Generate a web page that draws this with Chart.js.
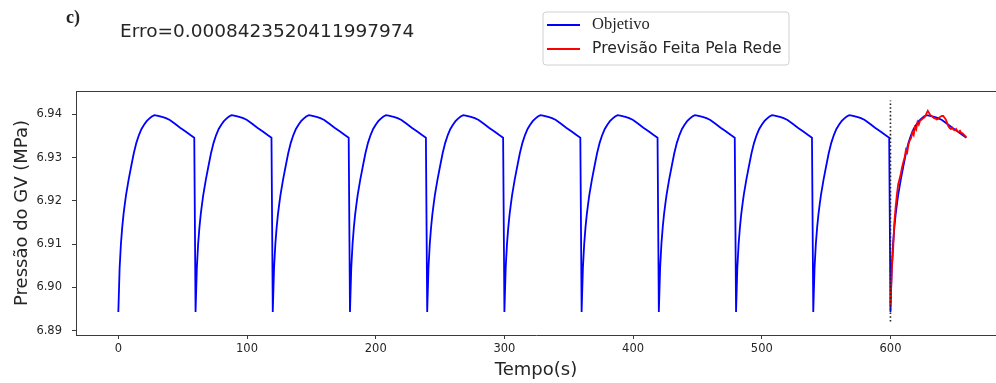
<!DOCTYPE html>
<html>
<head>
<meta charset="utf-8">
<script src="https://cdn.jsdelivr.net/npm/chart.js@4/dist/chart.umd.min.js"></script>
<style>
html,body{margin:0;padding:0;background:#fff;}
#wrap{position:relative;width:996px;height:383px;}
canvas{display:block;}
</style>
</head>
<body>
<div id="wrap"><canvas id="c" width="996" height="383"></canvas></div>
<script>
// ---- data ----
const panelLabel = "c)";
const errorText = "Erro=0.0008423520411997974";
const seriesNames = ["Objetivo", "Previsão Feita Pela Rede"];
const xTitle = "Tempo(s)";
const yTitle = "Pressão do GV (MPa)";
const xTickValues = [0, 100, 200, 300, 400, 500, 600];
const yTickValues = [6.89, 6.90, 6.91, 6.92, 6.93, 6.94];

// one 60 s cycle of the target (offset in s, pressure in MPa)
const cycleOffsets = [0, 1, 2, 3, 4, 5, 6, 8, 10, 12, 14, 16, 18, 20, 22, 24, 26, 28, 30, 34, 37, 40, 44, 48, 52, 56, 59];
const cycleValues  = [6.8943, 6.9045, 6.9100, 6.9138, 6.9168, 6.9192, 6.9214, 6.9249, 6.9280, 6.9310, 6.9334, 6.9352, 6.9366, 6.9376, 6.9384, 6.9390, 6.9395, 6.9398, 6.9397, 6.9394, 6.9391, 6.9387, 6.9378, 6.9369, 6.9361, 6.9352, 6.9346];
// start time of each cycle of the target series
const cycleStarts = [0, 60, 120, 180, 240, 300, 360, 420, 480, 540, 600];

// network prediction, t = 600..659 s
const predTimes = [600,601,602,603,604,605,606,607,608,609,610,611,612,613,614,615,616,617,618,619,620,621,622,623,624,625,626,627,628,629,630,631,632,633,634,635,636,637,638,639,640,641,642,643,644,645,646,647,648,649,650,651,652,653,654,655,656,657,658,659];
const predValues = [6.8960,6.9040,6.9085,6.9150,6.9185,6.9215,6.9238,6.9250,6.9262,6.9278,6.9290,6.9300,6.9318,6.9312,6.9330,6.9340,6.9345,6.9358,6.9352,6.9370,6.9365,6.9382,6.9376,6.9385,6.9387,6.9390,6.9392,6.9395,6.9402,6.9408,6.9403,6.9398,6.9396,6.9393,6.9391,6.9390,6.9388,6.9389,6.9393,6.9395,6.9396,6.9396,6.9392,6.9388,6.9380,6.9372,6.9368,6.9366,6.9369,6.9364,6.9363,6.9366,6.9361,6.9359,6.9362,6.9357,6.9356,6.9353,6.9350,6.9347];

// dotted separator (x, y bottom, y top)
const splitTime = 600;
const splitYRange = [6.8921, 6.9432];

// ---- build library tables ----
const targetPts = [];
cycleStarts.forEach(s => cycleOffsets.forEach((o, i) => targetPts.push({x: s + o, y: cycleValues[i]})));
const predPts = predTimes.map((t, i) => ({x: t, y: predValues[i]}));
const splitPts = splitYRange.map(v => ({x: splitTime, y: v}));

const TXT = '#262626';
const AX = '#3a3a3a';

const overlay = {
  id: 'overlay',
  afterDraw(chart) {
    const ctx = chart.ctx;
    const a = chart.chartArea;
    ctx.save();
    // top spine
    ctx.strokeStyle = AX; ctx.lineWidth = 1;
    ctx.beginPath(); ctx.moveTo(a.left, a.top + 0.5); ctx.lineTo(a.right, a.top + 0.5); ctx.stroke();
    // panel label and error
    ctx.fillStyle = TXT;
    ctx.textBaseline = 'middle'; ctx.textAlign = 'left';
    ctx.font = 'bold 18px "Liberation Serif"';
    ctx.fillText(panelLabel, 66, 18);
    ctx.font = '18.5px "DejaVu Sans"';
    ctx.fillText(errorText, 120, 32);
    // legend box
    const bx = 543, by = 12, bw = 246, bh = 53, r = 3;
    ctx.beginPath();
    ctx.moveTo(bx + r, by); ctx.lineTo(bx + bw - r, by); ctx.arcTo(bx + bw, by, bx + bw, by + r, r);
    ctx.lineTo(bx + bw, by + bh - r); ctx.arcTo(bx + bw, by + bh, bx + bw - r, by + bh, r);
    ctx.lineTo(bx + r, by + bh); ctx.arcTo(bx, by + bh, bx, by + bh - r, r);
    ctx.lineTo(bx, by + r); ctx.arcTo(bx, by, bx + r, by, r); ctx.closePath();
    ctx.fillStyle = 'rgba(255,255,255,0.85)'; ctx.fill();
    ctx.strokeStyle = '#d0d0d0'; ctx.lineWidth = 1; ctx.stroke();
    const rows = [25, 49];
    const cols = ['#0000ff', '#ff0000'];
    rows.forEach((y, i) => {
      ctx.strokeStyle = cols[i]; ctx.lineWidth = 2;
      ctx.beginPath(); ctx.moveTo(547, y); ctx.lineTo(580, y); ctx.stroke();
      ctx.fillStyle = TXT;
      ctx.font = i === 0 ? '16.5px "Liberation Serif"' : '15.6px "DejaVu Sans"';
      ctx.fillText(seriesNames[i], 592, y);
    });
    ctx.restore();
  }
};

new Chart(document.getElementById('c'), {
  type: 'line',
  data: {
    datasets: [
      {label: seriesNames[0], data: targetPts, borderColor: '#0000ff', borderWidth: 1.8, pointRadius: 0, tension: 0, order: 3},
      {label: seriesNames[1], data: predPts, borderColor: '#ff0000', borderWidth: 1.8, pointRadius: 0, tension: 0, order: 2},
      {label: 'split', data: splitPts, borderColor: '#222', borderWidth: 1.6, borderDash: [1.6, 2.2], pointRadius: 0, order: 1}
    ]
  },
  options: {
    responsive: false,
    animation: false,
    events: [],
    layout: {padding: {top: 91, left: 0, right: 0, bottom: 0}},
    plugins: {legend: {display: false}, title: {display: false}, tooltip: {enabled: false}},
    scales: {
      x: {
        type: 'linear', min: -32.9, max: 682,
        afterFit(s) { s.height = 48; },
        afterBuildTicks(s) { s.ticks = xTickValues.map(v => ({value: v})); },
        grid: {display: true, drawOnChartArea: false, drawTicks: true, tickLength: 4, color: AX},
        border: {display: true, color: AX, width: 1},
        ticks: {color: TXT, font: {family: 'DejaVu Sans', size: 11.5}, padding: 3, maxRotation: 0, autoSkip: false, callback: v => String(v)},
        title: {display: true, text: xTitle, color: TXT, font: {family: 'DejaVu Sans', size: 18, lineHeight: 1}, padding: {top: 0, bottom: 4}}
      },
      y: {
        type: 'linear', min: 6.889008, max: 6.94538,
        afterFit(s) { s.width = 76; },
        afterBuildTicks(s) { s.ticks = yTickValues.map(v => ({value: v})); },
        grid: {display: true, drawOnChartArea: false, drawTicks: true, tickLength: 4, color: AX},
        border: {display: true, color: AX, width: 1},
        ticks: {color: TXT, font: {family: 'DejaVu Sans', size: 11.5}, padding: 10, autoSkip: false, callback: v => v.toFixed(2)},
        title: {display: true, text: yTitle, color: TXT, font: {family: 'DejaVu Sans', size: 18, lineHeight: 1}, padding: {top: 13, bottom: 0}}
      }
    }
  },
  plugins: [overlay]
});
</script>
</body>
</html>
